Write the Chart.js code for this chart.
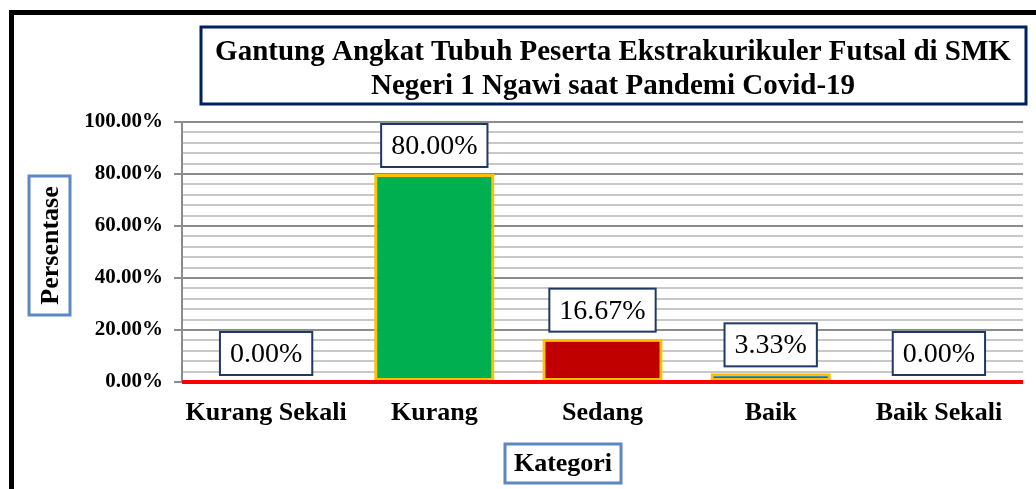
<!DOCTYPE html>
<html>
<head>
<meta charset="utf-8">
<script src="https://cdn.jsdelivr.net/npm/chart.js@4/dist/chart.umd.min.js"></script>
<style>
  html, body { margin: 0; padding: 0; background: #ffffff; }
  #wrap { width: 1036px; height: 489px; position: relative; }
</style>
</head>
<body>
<div id="wrap"><canvas id="c" width="1036" height="489"></canvas></div>
<script>
const titleLines = ['Gantung Angkat Tubuh Peserta Ekstrakurikuler Futsal di SMK', 'Negeri 1 Ngawi saat Pandemi Covid-19'];
const categories = ['Kurang Sekali', 'Kurang', 'Sedang', 'Baik', 'Baik Sekali'];
const values = [0, 80, 16.67, 3.33, 0];
const barColors = ['#00B050', '#00B050', '#C00000', '#0070C0', '#0070C0'];
const dataLabels = ['0.00%', '80.00%', '16.67%', '3.33%', '0.00%'];
const majorTickStep = 20;
const yAxisTitle = 'Persentase';
const xAxisTitle = 'Kategori';

const SERIF = '"Liberation Serif", "Times New Roman", serif';

function box(ctx, x, y, w, h, color, lw) {
  ctx.save();
  ctx.fillStyle = '#ffffff';
  ctx.fillRect(x, y, w, h);
  ctx.strokeStyle = color;
  ctx.lineWidth = lw;
  ctx.strokeRect(x, y, w, h);
  ctx.restore();
}

const decorPlugin = {
  id: 'decor',
  afterDatasetsDraw(chart) {
    const ctx = chart.ctx;
    const area = chart.chartArea;
    const yScale = chart.scales.y;
    const y0 = yScale.getPixelForValue(0);
    // red baseline
    ctx.save();
    ctx.strokeStyle = '#FF0000';
    ctx.lineWidth = 4;
    ctx.beginPath();
    ctx.moveTo(area.left, y0);
    ctx.lineTo(area.right, y0);
    ctx.stroke();
    ctx.restore();

    // data labels
    const meta = chart.getDatasetMeta(0);
    ctx.save();
    ctx.font = '28px ' + SERIF;
    ctx.textAlign = 'center';
    ctx.textBaseline = 'middle';
    meta.data.forEach((bar, i) => {
      const txt = dataLabels[i];
      const tw = ctx.measureText(txt).width;
      const w = tw + 20, h = 43;
      const bx = bar.x - w / 2;
      const by = bar.y - 7 - h;
      box(ctx, bx, by, w, h, '#1F3864', 2);
      ctx.fillStyle = '#000000';
      ctx.fillText(txt, bar.x, by + h / 2 + 1);
    });
    ctx.restore();
  },
  afterDraw(chart) {
    const ctx = chart.ctx;
    // outer black frame
    ctx.save();
    ctx.strokeStyle = '#000000';
    ctx.lineWidth = 5;
    ctx.beginPath();
    ctx.moveTo(11.5, 495);
    ctx.lineTo(11.5, 12.5);
    ctx.lineTo(1040, 12.5);
    ctx.stroke();
    ctx.restore();

    // title box
    box(ctx, 201, 27, 825, 77, '#002060', 3);
    ctx.save();
    ctx.font = 'bold 29px ' + SERIF;
    ctx.textAlign = 'center';
    ctx.textBaseline = 'alphabetic';
    ctx.fillStyle = '#000000';
    ctx.fillText(titleLines[0], 613, 60);
    ctx.fillText(titleLines[1], 613, 94);
    ctx.restore();

    // y axis title
    box(ctx, 29, 176, 41, 139, '#5B87C5', 3);
    ctx.save();
    ctx.translate(50, 245.5);
    ctx.rotate(-Math.PI / 2);
    ctx.font = 'bold 26px ' + SERIF;
    ctx.textAlign = 'center';
    ctx.textBaseline = 'middle';
    ctx.fillStyle = '#000000';
    ctx.fillText(yAxisTitle, 0, 1);
    ctx.restore();

    // x axis title
    box(ctx, 505, 444, 116, 39, '#5B87C5', 3);
    ctx.save();
    ctx.font = 'bold 26px ' + SERIF;
    ctx.textAlign = 'center';
    ctx.textBaseline = 'middle';
    ctx.fillStyle = '#000000';
    ctx.fillText(xAxisTitle, 563, 464);
    ctx.restore();
  }
};

new Chart(document.getElementById('c'), {
  type: 'bar',
  data: {
    labels: categories,
    datasets: [{
      data: values,
      backgroundColor: barColors,
      borderColor: '#FFC000',
      borderWidth: 3,
      borderSkipped: false,
      barPercentage: 0.715,
      categoryPercentage: 1
    }]
  },
  options: {
    responsive: false,
    animation: false,
    devicePixelRatio: 1,
    layout: { padding: { left: 0, top: 122, right: 13, bottom: 47 } },
    plugins: {
      legend: { display: false },
      title: { display: false },
      tooltip: { enabled: false }
    },
    scales: {
      x: {
        grid: { display: false, drawTicks: false },
        border: { display: false },
        ticks: {
          color: '#000000',
          padding: 16,
          maxRotation: 0,
          autoSkip: false,
          font: { family: SERIF, size: 26, weight: 'bold' }
        },
        afterFit(scale) { scale.height = 60; }
      },
      y: {
        min: 0,
        max: 100,
        ticks: {
          stepSize: 4,
          autoSkip: false,
          color: '#000000',
          padding: 11,
          font: { family: SERIF, size: 21, weight: 'bold' },
          callback(v) {
            return (Math.round(v) % majorTickStep === 0) ? v.toFixed(2) + '%' : '';
          }
        },
        grid: {
          color(c) { return (Math.round(c.tick.value) % majorTickStep === 0) ? '#8C8C8C' : '#C8C8C8'; },
          tickColor(c) { return (Math.round(c.tick.value) % majorTickStep === 0) ? '#8C8C8C' : 'rgba(0,0,0,0)'; },
          lineWidth: 2,
          tickLength: 8
        },
        border: { display: true, color: '#8C8C8C', width: 2 },
        afterFit(scale) { scale.width = 182; }
      }
    }
  },
  plugins: [decorPlugin]
});
</script>
</body>
</html>
